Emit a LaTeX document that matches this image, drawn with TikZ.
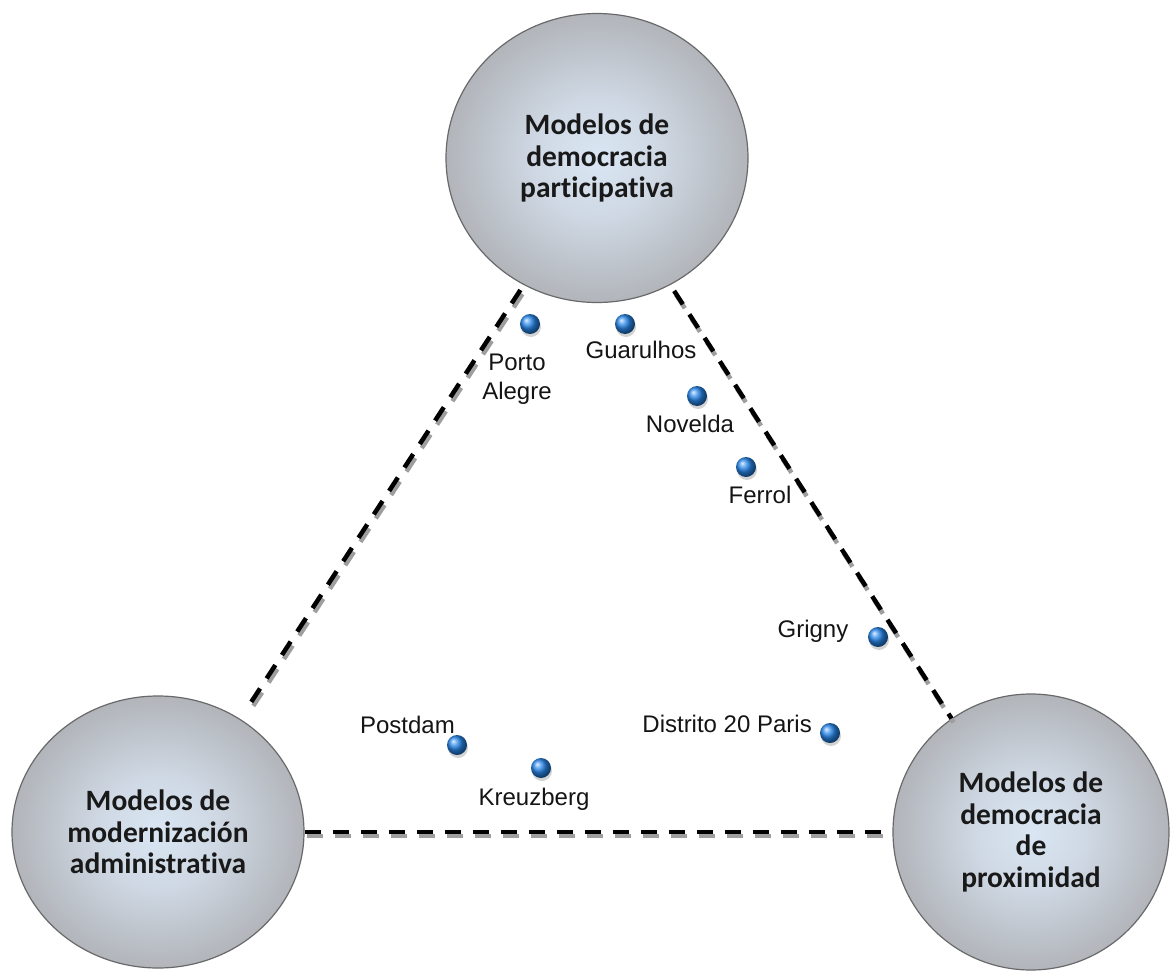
\documentclass[tikz,border=0pt]{standalone}
\usepackage{fontspec}
\newfontfamily\discfont{Carlito}[Ligatures=NoCommon]
\newfontfamily\townfont{Liberation Sans}
\usetikzlibrary{shapes.geometric, shadows}
\definecolor{discgray}{RGB}{164,164,166}
\definecolor{disccore}{RGB}{218,230,244}
\definecolor{discrim}{RGB}{105,105,107}
\definecolor{dashgray}{RGB}{158,158,158}
\definecolor{townblue}{RGB}{40,135,235}
\pgfdeclareradialshading{discshade}{\pgfpoint{0bp}{0bp}}{color(0bp)=(disccore); color(10bp)=(disccore!80!discgray); color(32bp)=(discgray); color(50bp)=(discgray)}
\begin{document}
\begin{tikzpicture}[x=1pt, y=1pt,
    model/.style={ellipse, draw=discrim, line width=1.2pt, shade, shading=discshade, align=center, inner sep=0pt, font=\discfont\bfseries\fontsize{29.5}{31.5}\selectfont, text=black!90},
    town/.style={circle, minimum size=20pt, inner sep=0pt, ball color=townblue, drop shadow={shadow xshift=1pt, shadow yshift=-3pt, opacity=0.35}},
    townlabel/.style={inner sep=0pt, align=center, text=black!92, font=\townfont\fontsize{24}{29}\selectfont},
    link/.style={line width=4.5pt, dash pattern=on 16pt off 12pt},
    linkshade/.style={link, draw=dashgray, transform canvas={shift={(2pt,-4pt)}}}]
                \useasboundingbox (0,0) rectangle (1171,-977);
                \node[model, minimum width=302pt, minimum height=289pt] (part) at (597,-158) {Modelos de\\democracia\\participativa};
                \node[model, minimum width=292pt, minimum height=272pt] (admin) at (158,-832) {Modelos de\\modernización\\administrativa};
                \node[model, minimum width=276pt, minimum height=276pt] (prox) at (1031,-832) {Modelos de\\democracia\\de\\proximidad};
                \draw[linkshade, shorten <=6pt, shorten >=20pt] (part.240) -- (admin.54);
                \draw[linkshade, shorten <=7pt] (part.300) -- (prox.125);
                \draw[linkshade] (admin) -- (prox);
                \draw[link, shorten <=6pt, shorten >=20pt] (part.240) -- (admin.54);
                \draw[link, shorten <=7pt] (part.300) -- (prox.125);
                \draw[link] (admin) -- (prox);
                \node[town] (porto) at (530,-324) {};
                \node[town] (guar) at (625,-324) {};
                \node[town] (nove) at (697,-396) {};
                \node[town] (ferr) at (746,-467) {};
                \node[town] (grig) at (878,-637) {};
                \node[town] (dist) at (830,-733) {};
                \node[town] (post) at (457,-745) {};
                \node[town] (kreu) at (541,-768) {};
                \node[townlabel] (portolbl) at (517,-379.5) {Porto\\Alegre};
                \node[townlabel, anchor=base] (guarlbl) at (641,-358) {Guarulhos};
                \node[townlabel, anchor=base] (novelbl) at (690,-432) {Novelda};
                \node[townlabel, anchor=base] (ferrlbl) at (760,-503) {Ferrol};
                \node[townlabel, anchor=base] (griglbl) at (813,-637) {Grigny};
                \node[townlabel, anchor=base east] (distlbl) at (812,-732) {Distrito 20 Paris};
                \node[townlabel, anchor=base east] (postlbl) at (455,-733) {Postdam};
                \node[townlabel, anchor=base] (kreulbl) at (534,-805) {Kreuzberg};
            \end{tikzpicture}
\end{document}
